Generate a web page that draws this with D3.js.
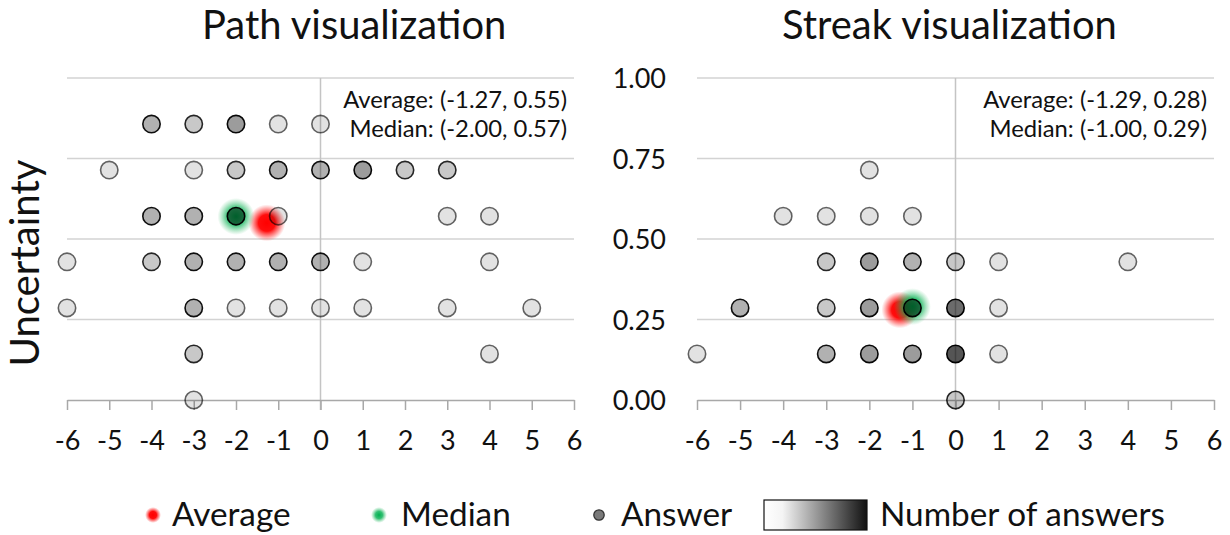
<!DOCTYPE html>
<html><head><meta charset="utf-8">
<script src="https://cdn.jsdelivr.net/npm/d3@7"></script>
<style>
html,body{margin:0;padding:0;background:#fff;}
svg{display:block;font-family:Lato, "Open Sans", sans-serif;}
</style>
</head><body>
<svg id="chart" width="1230" height="535"></svg>
<script>
// ---------- data ----------
const xTickValues = [-6,-5,-4,-3,-2,-1,0,1,2,3,4,5,6];
const xTickLabels = ["-6","-5","-4","-3","-2","-1","0","1","2","3","4","5","6"];
const yTickValues = [0,0.25,0.5,0.75,1];
const yTickLabels = ["0.00","0.25","0.50","0.75","1.00"];
const panelTitles = ["Path visualization","Streak visualization"];
const yAxisLabel = "Uncertainty";
const legendLabels = ["Average","Median","Answer","Number of answers"];

// Path visualization answers: x, uncertainty, number of answers
const pathX     = [-4,-3,-2,-1,0,  -5,-3,-2,-1,0,1,2,3,  -4,-3,-2,-1,3,4,  -6,-4,-3,-2,-1,0,1,4,  -6,-3,-2,-1,0,1,3,5,  -3,4,  -3];
const pathY     = [0.857,0.857,0.857,0.857,0.857,
                   0.714,0.714,0.714,0.714,0.714,0.714,0.714,0.714,
                   0.571,0.571,0.571,0.571,0.571,0.571,
                   0.429,0.429,0.429,0.429,0.429,0.429,0.429,0.429,
                   0.286,0.286,0.286,0.286,0.286,0.286,0.286,0.286,
                   0.143,0.143,
                   0.000];
const pathCount = [3,2,4,1,1,  1,1,2,3,3,4,2,2,  3,3,5,1,1,1,  1,2,3,3,3,3,1,1,  1,3,1,1,1,1,1,1,  2,1,  1];

// Streak visualization answers
const streakX     = [-2,  -4,-3,-2,-1,  -3,-2,-1,0,1,4,  -5,-3,-2,-1,0,1,  -6,-3,-2,-1,0,1,  0];
const streakY     = [0.714,
                     0.571,0.571,0.571,0.571,
                     0.429,0.429,0.429,0.429,0.429,0.429,
                     0.286,0.286,0.286,0.286,0.286,0.286,
                     0.143,0.143,0.143,0.143,0.143,0.143,
                     0.000];
const streakCount = [1,  1,1,1,1,  2,4,3,2,1,1,  3,2,4,5,7,1,  1,3,4,4,9,1,  2];

const pathAverage   = [-1.27, 0.55];
const pathMedian    = [-2.00, 0.57];
const streakAverage = [-1.29, 0.28];
const streakMedian  = [-1.00, 0.29];

// ---------- drawing ----------
const svg = d3.select("#chart");
const defs = svg.append("defs");

const redG = defs.append("radialGradient").attr("id","glowRed");
redG.append("stop").attr("offset","0%").attr("stop-color","#ff0000").attr("stop-opacity",1);
redG.append("stop").attr("offset","45%").attr("stop-color","#ff0000").attr("stop-opacity",0.95);
redG.append("stop").attr("offset","75%").attr("stop-color","#ff2020").attr("stop-opacity",0.45);
redG.append("stop").attr("offset","100%").attr("stop-color","#ff4040").attr("stop-opacity",0);

const greenG = defs.append("radialGradient").attr("id","glowGreen");
greenG.append("stop").attr("offset","0%").attr("stop-color","#00b050").attr("stop-opacity",1);
greenG.append("stop").attr("offset","45%").attr("stop-color","#00b050").attr("stop-opacity",0.8);
greenG.append("stop").attr("offset","75%").attr("stop-color","#20b860").attr("stop-opacity",0.35);
greenG.append("stop").attr("offset","100%").attr("stop-color","#40c070").attr("stop-opacity",0);

const countG = defs.append("linearGradient").attr("id","countGrad");
countG.append("stop").attr("offset","0%").attr("stop-color","#ffffff");
countG.append("stop").attr("offset","18%").attr("stop-color","#f4f4f4");
countG.append("stop").attr("offset","100%").attr("stop-color","#111111");

function fitFont(sel, target){
  sel.style("font-size","40px");
  const w = sel.node().getComputedTextLength();
  sel.style("font-size",(40*target/w)+"px");
}

const fillAlpha = 0.115, strokeAlpha = 0.6;

const panels = [
  {title: panelTitles[0], titleX: 202, xr:[67,574], X:pathX, Y:pathY, N:pathCount, avg:pathAverage, med:pathMedian, showY:false},
  {title: panelTitles[1], titleX: 782, xr:[697,1214], X:streakX, Y:streakY, N:streakCount, avg:streakAverage, med:streakMedian, showY:true}
];

const yTop = 78, yBot = 400;
let titleSize = null;

panels.forEach((p, pi) => {
  const x = d3.scaleLinear().domain([-6,6]).range(p.xr);
  const y = d3.scaleLinear().domain([0,1]).range([yBot, yTop]);
  const g = svg.append("g");

  // title
  const t = g.append("text").attr("x", p.titleX).attr("y", 39).attr("fill","#111").text(p.title);
  if (pi === 1) { fitFont(t, 335); titleSize = t.style("font-size"); }
  else { t.style("font-size", null); }
  panels[pi].titleSel = t;

  // horizontal gridlines
  g.selectAll(".grid").data(yTickValues.filter(v => v > 0)).join("line")
    .attr("x1", x(-6)).attr("x2", x(6))
    .attr("y1", d => y(d)).attr("y2", d => y(d))
    .attr("stroke","#d3d3d3").attr("stroke-width",1.5);

  // vertical zero line
  g.append("line").attr("x1", x(0)).attr("x2", x(0)).attr("y1", y(1)).attr("y2", y(0)+10)
    .attr("stroke","#c4c4c4").attr("stroke-width",1.5);

  // x axis
  const ax = g.append("g").attr("transform",`translate(0,${y(0)})`)
    .call(d3.axisBottom(x).tickValues(xTickValues).tickFormat((d,i)=>xTickLabels[i]).tickSize(10).tickSizeOuter(0));
  ax.select(".domain").attr("stroke","#a8a8a8").attr("stroke-width",1.5);
  ax.selectAll(".tick line").attr("stroke","#a8a8a8").attr("stroke-width",1.5);
  ax.selectAll(".tick text").attr("y",50).attr("dy",0).attr("fill","#111")
    .style("font-size","27px").style("font-family","Lato, sans-serif");

  // y axis labels (right panel)
  if (p.showY) {
    const ay = g.append("g").attr("transform",`translate(${p.xr[0]},0)`)
      .call(d3.axisLeft(y).tickValues(yTickValues).tickFormat((d,i)=>yTickLabels[i]).tickSize(0).tickPadding(31));
    ay.select(".domain").remove();
    ay.selectAll(".tick text").attr("fill","#111").attr("dy","0.36em")
      .style("font-size","27px").style("font-family","Lato, sans-serif");
  }

  // glows
  g.append("circle").attr("cx", x(p.avg[0])).attr("cy", y(p.avg[1])).attr("r",18.5).attr("fill","url(#glowRed)");
  g.append("circle").attr("cx", x(p.med[0])).attr("cy", y(p.med[1])).attr("r",18.5).attr("fill","url(#glowGreen)");

  // answers
  const pts = p.X.map((v,i)=>({x:v, y:p.Y[i], n:p.N[i]}));
  g.selectAll(".ans").data(pts).join("circle")
    .attr("cx", d => x(d.x)).attr("cy", d => y(d.y)).attr("r", 8.7)
    .attr("fill","#000").attr("fill-opacity", d => 1 - Math.pow(1-fillAlpha, d.n))
    .attr("stroke","#000").attr("stroke-opacity", d => 1 - Math.pow(1-strokeAlpha, d.n))
    .attr("stroke-width",1.6);

  // annotation
  const ann = g.append("g").attr("fill","#111");
  const a1 = ann.append("text").attr("x", p.xr[1]-7).attr("y",108).attr("text-anchor","end")
    .text(`Average: (${p.avg[0].toFixed(2)}, ${p.avg[1].toFixed(2)})`);
  fitFont(a1, 224);
  const fs = a1.style("font-size");
  ann.append("text").attr("x", p.xr[1]-7).attr("y",137).attr("text-anchor","end").style("font-size",fs)
    .text(`Median: (${p.med[0].toFixed(2)}, ${p.med[1].toFixed(2)})`);
});
panels[0].titleSel.style("font-size", titleSize);

// y axis label
const yl = svg.append("text").attr("transform","translate(39,263) rotate(-90)").attr("text-anchor","middle")
  .attr("fill","#111").text(yAxisLabel);
fitFont(yl, 207);

// legend
const lg = svg.append("g");
const ly = 515;
lg.append("circle").attr("cx",153).attr("cy",ly).attr("r",8).attr("fill","url(#glowRed)");
lg.append("circle").attr("cx",379).attr("cy",ly).attr("r",8).attr("fill","url(#glowGreen)");
lg.append("circle").attr("cx",599).attr("cy",ly).attr("r",5.2).attr("fill","#7a7a7a").attr("stroke","#333").attr("stroke-width",1.3);
lg.append("rect").attr("x",764).attr("y",500).attr("width",103).attr("height",30)
  .attr("fill","url(#countGrad)").attr("stroke","#111").attr("stroke-width",1.2);
const lx = [172, 401, 621, 880];
const lt = lg.selectAll(".lt").data(legendLabels).join("text")
  .attr("x",(d,i)=>lx[i]).attr("y",526).attr("fill","#111").text(d=>d);
fitFont(d3.select(lt.nodes()[3]), 285);
lt.style("font-size", d3.select(lt.nodes()[3]).style("font-size"));
</script>
</body></html>
